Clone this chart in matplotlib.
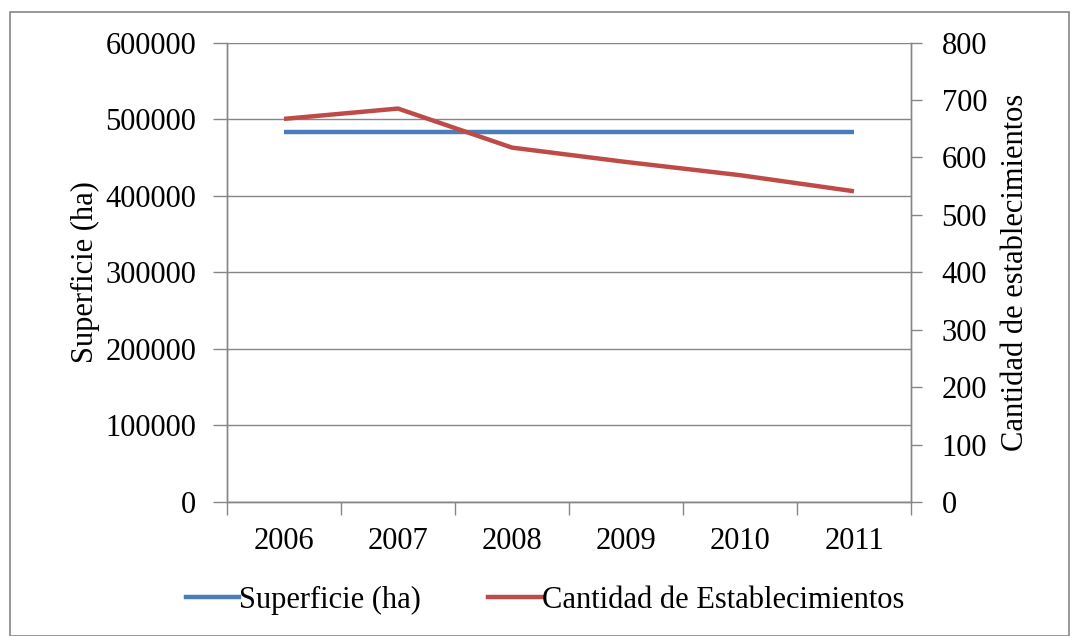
import numpy as np
import matplotlib
matplotlib.use("Agg")
import matplotlib.pyplot as plt
from matplotlib.patches import Rectangle
from matplotlib.lines import Line2D

years = ["2006", "2007", "2008", "2009", "2010", "2011"]
superficie = [483000, 483000, 483000, 483000, 483000, 483000]
establecimientos = [667, 685, 617, 592, 569, 541]

left_ticks = [0, 100000, 200000, 300000, 400000, 500000, 600000]
right_ticks = [0, 100, 200, 300, 400, 500, 600, 700, 800]

plt.rcParams["font.family"] = ["Liberation Serif", "DejaVu Serif"]
plt.rcParams["font.size"] = 22

blue = "#4A7EBB"
red = "#BE4B48"
axis_gray = "#868686"

fig = plt.figure(figsize=(10.78, 6.36), dpi=100)
ax = fig.add_axes([227 / 1078, 1 - 502 / 636, (911 - 227) / 1078, (502 - 42.5) / 636])
ax2 = ax.twinx()

x = np.arange(len(years))
ax.plot(x, superficie, color=blue, linewidth=3.2, solid_capstyle="butt", zorder=3)
ax2.plot(x, establecimientos, color=red, linewidth=3.2, solid_capstyle="butt", zorder=3)

ax.set_xlim(-0.5, len(years) - 0.5)
ax.set_ylim(0, 600000)
ax2.set_ylim(0, 800)

ax.set_yticks(left_ticks)
ax.set_yticklabels([str(v) for v in left_ticks])
ax2.set_yticks(right_ticks)
ax2.set_yticklabels([str(v) for v in right_ticks])

# category labels centred, tick marks between categories
ax.set_xticks(x)
ax.set_xticklabels(years)
ax.set_xticks(np.arange(-0.5, len(years)), minor=True)
ax.tick_params(axis="x", which="major", length=0, pad=18)
ax.tick_params(axis="x", which="minor", length=9, color=axis_gray, width=1, direction="out")
ax.tick_params(axis="y", length=10, color=axis_gray, width=1, pad=12)
ax2.tick_params(axis="y", length=8, color=axis_gray, width=1, pad=14)

ax.yaxis.grid(True, color=axis_gray, linewidth=1)
ax.set_axisbelow(True)

for a in (ax, ax2):
    a.spines["top"].set_visible(False)
    for s in ("left", "right", "bottom"):
        a.spines[s].set_color(axis_gray)
        a.spines[s].set_linewidth(1)

ax.set_ylabel("Superficie (ha)", labelpad=4)
ax2.set_ylabel("Cantidad de establecimientos", labelpad=10)

handles = [Line2D([], [], color=blue, linewidth=3.2),
           Line2D([], [], color=red, linewidth=3.2)]
fig.legend(handles, ["Superficie (ha)", "Cantidad de Establecimientos"],
           loc="center", bbox_to_anchor=(545 / 1078, 1 - 600 / 636), ncol=2,
           frameon=False, handlelength=1.75, handletextpad=0.0, columnspacing=2.2)

# outer chart border
fig.patches.append(Rectangle((10 / 1078, 0.0), (1069 - 10) / 1078, 1 - 12 / 636,
                             transform=fig.transFigure, fill=False,
                             edgecolor=axis_gray, linewidth=1.2))

fig.savefig("out.png", dpi=100)
